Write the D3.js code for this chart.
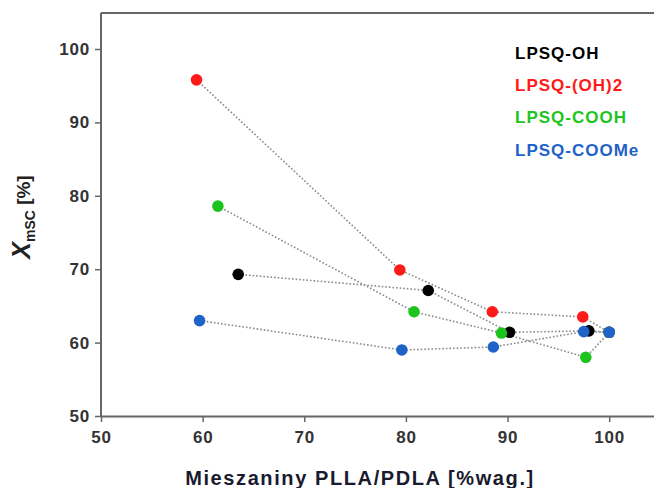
<!DOCTYPE html>
<html>
<head>
<meta charset="utf-8">
<script src="https://cdnjs.cloudflare.com/ajax/libs/d3/7.8.5/d3.min.js"></script>
<style>
  body { margin: 0; background: #fff; }
  svg text { font-family: "Liberation Sans", Arial, sans-serif; font-weight: bold; }
</style>
</head>
<body>
<svg id="chart" width="654" height="488"></svg>
<script>
var seriesNames = ['LPSQ-OH', 'LPSQ-(OH)2', 'LPSQ-COOH', 'LPSQ-COOMe'];
var seriesColors = ['#000000', '#ff1a1a', '#1ec41e', '#1f62c8'];

// blend composition [%wag.] and X_mSC [%] per series
var ohX = [63.5, 82.2, 90.2, 98.0, 100];
var ohY = [69.3, 67.1, 61.4, 61.6, 61.4];
var oh2X = [59.4, 79.4, 88.5, 97.4, 100];
var oh2Y = [95.8, 69.9, 64.2, 63.5, 61.4];
var coohX = [61.5, 80.8, 89.4, 97.7, 100];
var coohY = [78.6, 64.2, 61.3, 58.0, 61.4];
var coomeX = [59.7, 79.6, 88.6, 97.5, 100];
var coomeY = [63.0, 59.0, 59.4, 61.5, 61.4];

var xTicks = [50, 60, 70, 80, 90, 100];
var yTicks = [50, 60, 70, 80, 90, 100];

var allX = [ohX, oh2X, coohX, coomeX];
var allY = [ohY, oh2Y, coohY, coomeY];
var series = seriesNames.map(function(name, i) {
    return {
        name: name,
        color: seriesColors[i],
        points: allX[i].map(function(x, j) { return {x: x, y: allY[i][j]}; })
    };
});

var svg = d3.select('#chart');

var x = d3.scaleLinear().domain([50, 105]).range([101, 660]);
var y = d3.scaleLinear().domain([50, 100]).range([416, 49]);

// frame: top line (plot is cropped on the right)
svg.append('line')
    .attr('x1', 101).attr('x2', 660)
    .attr('y1', 13).attr('y2', 13)
    .attr('stroke', '#666').attr('stroke-width', 2);

var xAxis = svg.append('g')
    .attr('transform', 'translate(0,416)')
    .call(d3.axisBottom(x).tickValues(xTicks).tickSize(6).tickPadding(9).tickSizeOuter(0));

var yAxis = svg.append('g')
    .attr('transform', 'translate(101,0)')
    .call(d3.axisLeft(y).tickValues(yTicks).tickSize(6).tickPadding(5).tickSizeOuter(0));

// left axis goes up to the frame top
yAxis.select('.domain').attr('d', 'M0,13V416');

[xAxis, yAxis].forEach(function(a) {
    a.select('.domain').attr('stroke', '#666').attr('stroke-width', 2);
    a.selectAll('.tick line').attr('stroke', '#666').attr('stroke-width', 1.5);
    a.selectAll('.tick text')
        .attr('fill', '#333')
        .style('font-size', '17px')
        .style('letter-spacing', '0.8px')
        .style('font-family', '"Liberation Sans", Arial, sans-serif')
        .style('font-weight', 'bold');
});

var line = d3.line()
    .x(function(d) { return x(d.x); })
    .y(function(d) { return y(d.y); });

svg.selectAll('.link')
    .data(series)
    .enter().append('path')
    .attr('class', 'link')
    .attr('d', function(d) { return line(d.points); })
    .attr('fill', 'none')
    .attr('stroke', '#8a8a8a')
    .attr('stroke-width', 1.6)
    .attr('stroke-dasharray', '1.6,2');

var groups = svg.selectAll('.series')
    .data(series)
    .enter().append('g')
    .attr('class', 'series');

groups.selectAll('circle')
    .data(function(d) { return d.points.map(function(p) { return {x: p.x, y: p.y, color: d.color}; }); })
    .enter().append('circle')
    .attr('cx', function(d) { return x(d.x); })
    .attr('cy', function(d) { return y(d.y); })
    .attr('r', 5.8)
    .attr('fill', function(d) { return d.color; });

// legend
svg.selectAll('.legend')
    .data(series)
    .enter().append('text')
    .attr('class', 'legend')
    .attr('x', 515)
    .attr('y', function(d, i) { return 59 + i * 32.2; })
    .attr('fill', function(d) { return d.color; })
    .style('font-size', '17px')
    .style('letter-spacing', '1px')
    .text(function(d) { return d.name; });

// axis titles
svg.append('text')
    .attr('x', 360)
    .attr('y', 485)
    .attr('text-anchor', 'middle')
    .attr('fill', '#1a1a2e')
    .style('font-size', '20px')
    .style('letter-spacing', '1.6px')
    .text('Mieszaniny PLLA/PDLA [%wag.]');

var yTitle = svg.append('text')
    .attr('transform', 'translate(30,217) rotate(-90)')
    .attr('text-anchor', 'middle')
    .attr('fill', '#222');
yTitle.append('tspan')
    .style('font-size', '25px')
    .style('font-style', 'italic')
    .text('X');
yTitle.append('tspan')
    .attr('dy', 5)
    .style('font-size', '14px')
    .text('mSC');
yTitle.append('tspan')
    .attr('dy', -5)
    .style('font-size', '19px')
    .text(' [%]');
</script>
</body>
</html>
